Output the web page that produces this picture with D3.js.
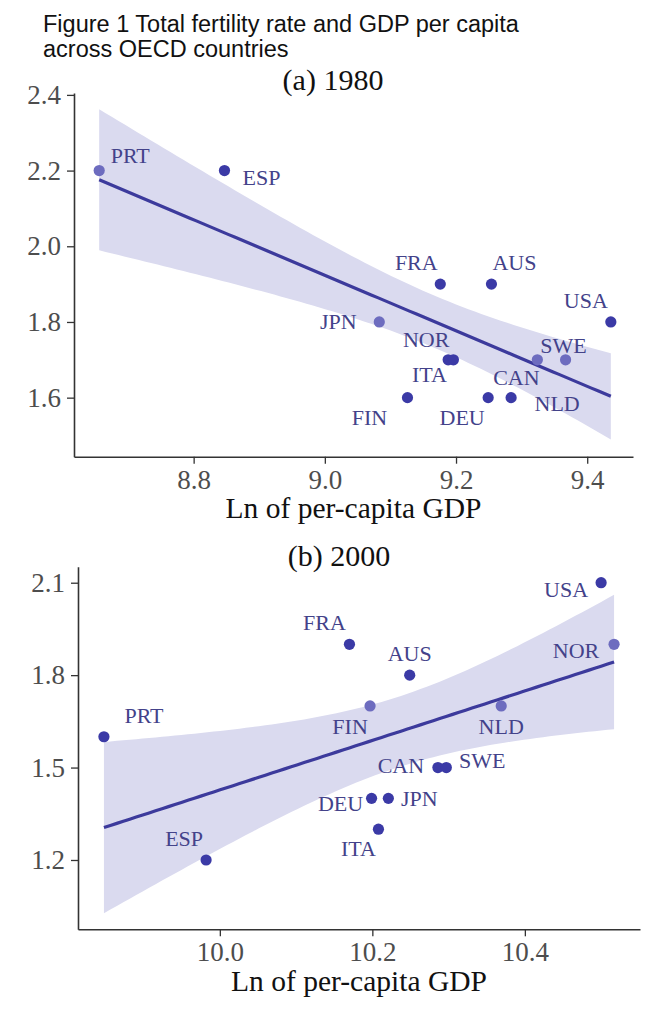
<!DOCTYPE html>
<html><head><meta charset="utf-8">
<script src="https://cdn.jsdelivr.net/npm/d3@7"></script>
<style>body{margin:0;background:#fff} svg{display:block}</style>
</head><body>
<svg id="chart" width="666" height="1024"></svg>
<script>
// ---------- data ----------
const countries1980 = ["PRT","ESP","FRA","AUS","USA","JPN","NOR","ITA","CAN","SWE","FIN","DEU","NLD"];
const lnGdp1980     = [8.656,8.847,9.176,9.254,9.436,9.083,9.188,9.196,9.324,9.367,9.126,9.249,9.284];
const tfr1980       = [2.2,2.2,1.9,1.9,1.8,1.8,1.7,1.7,1.7,1.7,1.6,1.6,1.6];

const countries2000 = ["PRT","ESP","USA","NOR","FRA","AUS","FIN","NLD","CAN","SWE","DEU","JPN","ITA"];
const lnGdp2000     = [9.848,9.982,10.500,10.517,10.170,10.249,10.197,10.369,10.286,10.297,10.199,10.221,10.208];
const tfr2000       = [1.6,1.2,2.1,1.9,1.9,1.8,1.7,1.7,1.5,1.5,1.4,1.4,1.3];

const xTicks1980 = [8.8, 9.0, 9.2, 9.4];
const yTicks1980 = [1.6, 1.8, 2.0, 2.2, 2.4];
const xTicks2000 = [10.0, 10.2, 10.4];
const yTicks2000 = [1.2, 1.5, 1.8, 2.1];

const figureTitle = ["Figure 1 Total fertility rate and GDP per capita", "across OECD countries"];
const xAxisTitle = "Ln of per-capita GDP";

// ---------- layout / style (kept apart from data) ----------
const labelNudge1980 = {PRT:[31,-8], ESP:[37,14], FRA:[-24,-14], AUS:[23,-14], USA:[-25,-14], JPN:[-41,7],
  NOR:[-22,-13], ITA:[-24,22], CAN:[-21,25], SWE:[-2,-7], FIN:[-38,27], DEU:[-26,27], NLD:[46,13]};
const labelNudge2000 = {USA:[-35,14], NOR:[-38,14], FRA:[-25,-14], AUS:[0,-14], PRT:[40,-14], FIN:[-20,28],
  NLD:[0,28], CAN:[-37,5], SWE:[36,0], DEU:[-31,13], JPN:[31,8], ITA:[-20,27], ESP:[-22,-14]};
const faded1980 = ["PRT","JPN","CAN","SWE"];
const faded2000 = ["NOR","FIN","NLD"];

const SERIF = "'Liberation Serif','Times New Roman',serif";
const C = {point:"#3b3aa6", faded:"#6d6cbf", line:"#3c3a9c", band:"#dadaef", label:"#43428a", tick:"#4d4d4d", axis:"#333"};
const T_CRIT = 1.796; // t quantile (df = n-2 = 11) for the smoother band

const svg = d3.select("#chart");

svg.selectAll("text.ftitle").data(figureTitle).enter().append("text")
  .attr("class","ftitle").attr("x",43).attr("y",(d,i)=>31.5+i*25.5)
  .attr("font-family","'Liberation Sans',Arial,sans-serif").attr("font-size",23.5).attr("fill","#111")
  .text(d=>d);

function fit(xs, ys){
  const n = xs.length, mx = d3.mean(xs), my = d3.mean(ys);
  let sxx=0, sxy=0;
  xs.forEach((x,i)=>{ sxx += (x-mx)*(x-mx); sxy += (x-mx)*(ys[i]-my); });
  const b = sxy/sxx, a = my - b*mx;
  let sse = 0; xs.forEach((x,i)=>{ const r = ys[i]-(a+b*x); sse += r*r; });
  const s = Math.sqrt(sse/(n-2));
  const lo = d3.min(xs), hi = d3.max(xs);
  return d3.range(80).map(k=>{
    const x = lo + (hi-lo)*k/79;
    const yh = a + b*x;
    const se = s*Math.sqrt(1/n + (x-mx)*(x-mx)/sxx);
    return {x, y:yh, lo:yh-T_CRIT*se, hi:yh+T_CRIT*se};
  });
}

function panel(cfg){
  const x = d3.scaleLinear().domain(cfg.xDomain).range(cfg.xRange);
  const y = d3.scaleLinear().domain(cfg.yDomain).range(cfg.yRange);
  const g = svg.append("g");
  const data = cfg.names.map((c,i)=>({c, x:cfg.xs[i], y:cfg.ys[i]}));
  const sm = fit(cfg.xs, cfg.ys);

  g.append("path").datum(sm)
    .attr("d", d3.area().x(d=>x(d.x)).y0(d=>y(d.lo)).y1(d=>y(d.hi)))
    .attr("fill", C.band);
  g.append("path").datum(sm)
    .attr("d", d3.line().x(d=>x(d.x)).y(d=>y(d.y)))
    .attr("fill","none").attr("stroke",C.line).attr("stroke-width",3.2);

  g.selectAll("circle").data(data).enter().append("circle")
    .attr("cx",d=>x(d.x)).attr("cy",d=>y(d.y)).attr("r",5.6)
    .attr("fill",d=>cfg.faded.includes(d.c)?C.faded:C.point);

  g.selectAll("text.lab").data(data).enter().append("text").attr("class","lab")
    .attr("x",d=>x(d.x)+cfg.nudge[d.c][0]).attr("y",d=>y(d.y)+cfg.nudge[d.c][1])
    .attr("text-anchor","middle").attr("font-family",SERIF).attr("font-size",22)
    .attr("fill",C.label).text(d=>d.c);

  const xa = g.append("g").attr("transform",`translate(0,${cfg.yRange[0]})`)
    .call(d3.axisBottom(x).tickValues(cfg.xTicks).tickFormat(d3.format(".1f")).tickSize(7).tickSizeOuter(0).tickPadding(6));
  const ya = g.append("g").attr("transform",`translate(${cfg.xRange[0]},0)`)
    .call(d3.axisLeft(y).tickValues(cfg.yTicks).tickFormat(d3.format(".1f")).tickSize(7).tickSizeOuter(0).tickPadding(6));
  [xa,ya].forEach(a=>{
    a.select(".domain").attr("stroke",C.axis).attr("stroke-width",1.6);
    a.selectAll(".tick line").attr("stroke",C.axis).attr("stroke-width",1.3);
    a.selectAll(".tick text").attr("font-family",SERIF).attr("font-size",27).attr("fill",C.tick);
  });

  g.append("text").attr("x",cfg.titleX).attr("y",cfg.titleY).attr("text-anchor","middle")
    .attr("font-family",SERIF).attr("font-size",30).attr("fill","#111").text(cfg.title);
  g.append("text").attr("x",(cfg.xRange[0]+cfg.xRange[1])/2).attr("y",cfg.yRange[0]+61.6)
    .attr("text-anchor","middle").attr("font-family",SERIF).attr("font-size",29.5).attr("fill","#111").text(xAxisTitle);
}

panel({names:countries1980, xs:lnGdp1980, ys:tfr1980, xTicks:xTicks1980, yTicks:yTicks1980,
  xDomain:[8.6176, 9.4698], xRange:[74, 633], yDomain:[1.444, 2.405], yRange:[456.7, 93],
  title:"(a) 1980", titleX:333, titleY:90, nudge:labelNudge1980, faded:faded1980});

panel({names:countries2000, xs:lnGdp2000, ys:tfr2000, xTicks:xTicks2000, yTicks:yTicks2000,
  xDomain:[9.814, 10.551], xRange:[78, 640], yDomain:[0.975, 2.152], yRange:[929.3, 566.7],
  title:"(b) 2000", titleX:339, titleY:566, nudge:labelNudge2000, faded:faded2000});
</script>
</body></html>
